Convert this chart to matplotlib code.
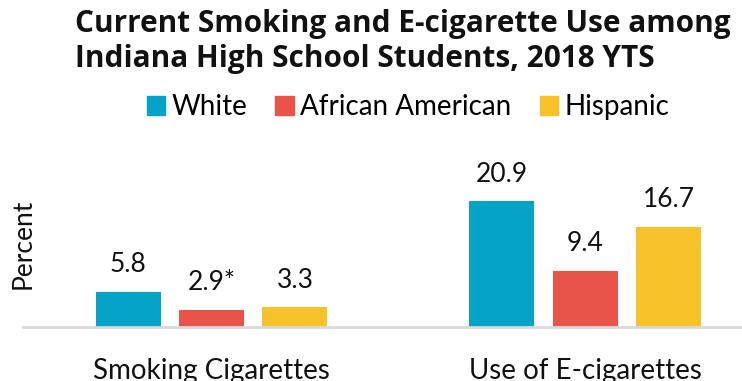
import numpy as np
import matplotlib
matplotlib.use('Agg')
import matplotlib.pyplot as plt
from matplotlib.patches import Patch

# data
categories = ['Smoking Cigarettes', 'Use of E-cigarettes']
groups = ['White', 'African American', 'Hispanic']
white = [5.8, 20.9]
african_american = [2.9, 9.4]
hispanic = [3.3, 16.7]
value_labels = [['5.8', '20.9'], ['2.9*', '9.4'], ['3.3', '16.7']]

colors = ['#05A3C7', '#E9544A', '#F7C12A']

plt.rcParams['font.family'] = ['Lato', 'DejaVu Sans']

fig = plt.figure(figsize=(7.42, 3.81), dpi=100)
ax = fig.add_axes([0.031, 0.141, 0.969, 0.49])

x = np.arange(len(categories))
width = 0.174
step = 0.223
series = [white, african_american, hispanic]
for i, (vals, c) in enumerate(zip(series, colors)):
    pos = x + (i - 1) * step
    ax.bar(pos, vals, width=width, color=c, label=groups[i])
    for p, v, lab in zip(pos, vals, value_labels[i]):
        ax.text(p, v + 3.3, lab, ha='center', va='baseline', fontsize=19, color='#111111')

ax.set_xlim(-0.505, 1.42)
ax.set_ylim(0, 31)
ax.set_xticks(x)
ax.set_xticklabels(categories, fontsize=20, color='#111111')
ax.tick_params(axis='x', length=0, pad=22)
ax.set_yticks([])
for s in ['top', 'right', 'left']:
    ax.spines[s].set_visible(False)
ax.spines['bottom'].set_color('#D9D9D9')
ax.spines['bottom'].set_linewidth(2)

fig.text(0.031, 0.36, 'Percent', rotation=90, ha='center', va='center',
         fontsize=19, color='#111111')

fig.text(0.101, 0.891, 'Current Smoking and E-cigarette Use among\nIndiana High School Students, 2018 YTS',
         ha='left', va='center', fontsize=21.4, fontweight='bold', color='#111111',
         linespacing=1.2, family=['Open Sans', 'DejaVu Sans'])

handles = [Patch(color=c) for c in colors]
fig.legend(handles, groups, loc='center', bbox_to_anchor=(0.55, 0.719), ncol=3,
           frameon=False, fontsize=20, handlelength=0.65, handleheight=0.65,
           handletextpad=0.25, columnspacing=1.0)

fig.savefig('out.png', dpi=100)
